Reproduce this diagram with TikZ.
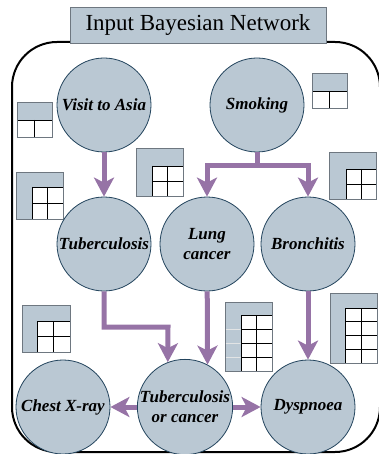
\documentclass[tikz,border=0pt]{standalone}
\usepackage{fontspec}
\setmainfont{Liberation Serif}
\usetikzlibrary{arrows.meta}
\definecolor{bnfill}{HTML}{BAC8D3}
\definecolor{bnline}{HTML}{23445D}
\definecolor{arrcol}{HTML}{9673A6}
\definecolor{cptline}{HTML}{6E7780}
\newcommand{\cptbox}[8]{%
  \fill[bnfill] (#1,#2) rectangle (#3,#4);
  \fill[white] (#5,#6) rectangle (#3,#4);
  \pgfmathsetmacro\cptrh{(#4-#6)/#7}
  \pgfmathsetmacro\cptcw{(#3-#5)/#8}
  \foreach \i in {0,...,#7} {\draw[black, line width=0.9pt] (#5,{#6+\i*\cptrh}) -- (#3,{#6+\i*\cptrh});}
  \foreach \j in {0,...,#8} {\draw[black, line width=0.9pt] ({#5+\j*\cptcw},#6) -- ({#5+\j*\cptcw},#4);}
  \draw[cptline, line width=0.8pt] (#1,#2) rectangle (#3,#4);
}
\begin{document}
\begin{tikzpicture}[x=1pt,y=-1pt,
  bn/.style={circle, draw=bnline, line width=0.8pt, fill=bnfill, minimum size=94pt, inner sep=0pt, align=center, font=\fontsize{17}{20}\selectfont\bfseries\itshape},
  arr/.style={draw=arrcol, line width=5pt, -{Stealth[length=19pt,width=20pt,inset=5pt]}},
  plainline/.style={draw=arrcol, line width=5pt}]
\useasboundingbox (0,0) rectangle (379,454);
\draw[line width=2pt, rounded corners=45pt] (12,42) rectangle (380,452);
\node[draw=cptline, line width=0.8pt, fill=bnfill, minimum width=256pt, minimum height=36pt, inner sep=0pt, font=\fontsize{23}{27}\selectfont] (title) at (198,25) {Input Bayesian Network};

% CPT tables
\cptbox{17}{102}{52}{137}{17}{120}{1}{2}
\cptbox{312}{73}{347}{108}{312}{91}{1}{2}
\cptbox{16}{172}{63}{219}{32}{187}{2}{2}
\cptbox{136}{148}{183}{196}{152}{166}{2}{2}
\cptbox{329}{152}{376}{199}{346}{169}{2}{2}
\cptbox{22}{305}{70}{352}{37}{321}{2}{2}
\cptbox{225}{302}{272}{371}{241}{315}{4}{2}
\cptbox{330}{293}{377}{363}{345}{308}{4}{2}
\foreach \k in {1,2,3} {\draw[white!80!cptline, line width=0.6pt] (225.5,{315+\k*14}) -- (241,{315+\k*14});}

% nodes
\node[bn] (visit) at (104,105) {Visit to Asia};
\node[bn] (smoke) at (257,105) {Smoking};
\node[bn] (tub) at (104,244) {Tuberculosis};
\node[bn] (lung) at (207,244) {Lung\\cancer};
\node[bn] (bron) at (308,244) {Bronchitis};
\node[bn] (xray) at (63,407) {Chest X-ray};
\node[bn] (toc) at (185,407) {Tuberculosis\\or cancer};
\node[bn] (dysp) at (308,407) {Dyspnoea};

% connectors
\coordinate (sj) at (257,166);
\coordinate (tc) at (168,327);
\draw[arr] (visit) -- (tub);
\draw[plainline] (smoke.south) -- (sj);
\draw[arr] (sj) -| (lung);
\draw[arr] (sj) -| (bron);
\draw[arr] (tub) |- (tc) -- (toc.111);
\draw[arr] (lung) -- (toc.62);
\draw[arr] (bron) -- (dysp);
\draw[arr] (toc) -- (xray);
\draw[arr] (toc) -- (dysp);
\end{tikzpicture}
\end{document}
